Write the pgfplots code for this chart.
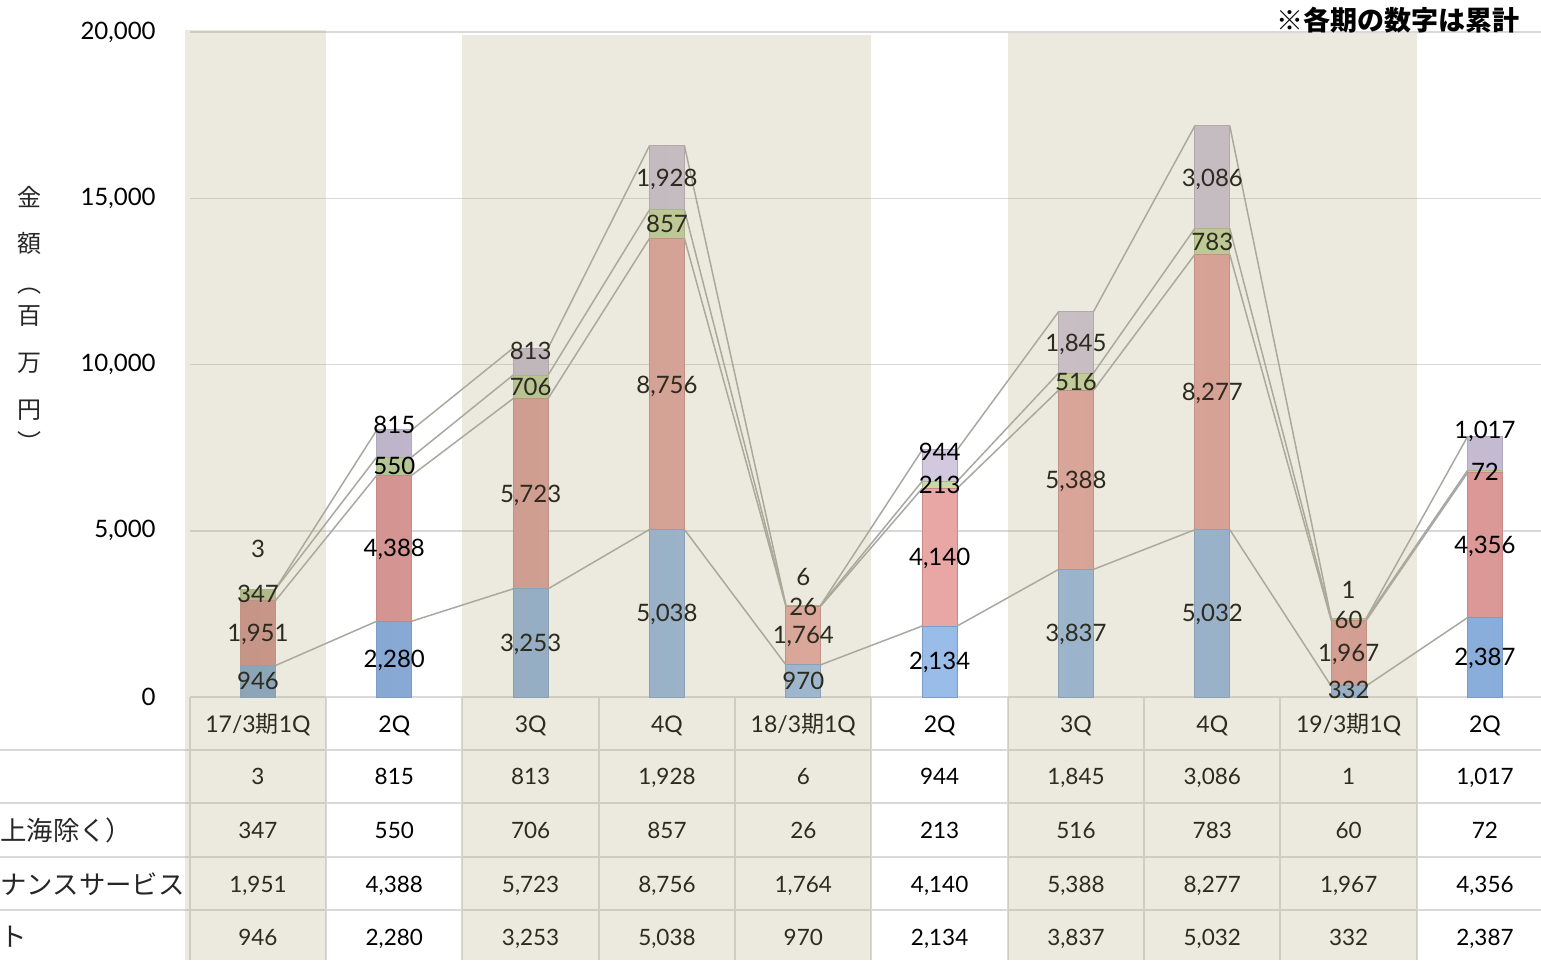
\documentclass[border=0pt]{standalone}
\usepackage{fontspec}
\setmainfont{Lato}
\newfontfamily\cjk{Noto Sans CJK JP}
\usepackage{pgfplots}
\usepackage{pgfplotstable}
\pgfplotsset{compat=1.18}
\definecolor{cblue}{HTML}{92B8E8}
\definecolor{cred}{HTML}{E8A19F}
\definecolor{cgreen}{HTML}{C6D89F}
\definecolor{cpurple}{HTML}{D0C6DE}
\definecolor{overlayc}{RGB}{180,172,128}
\definecolor{gridc}{HTML}{D9D9D9}
\definecolor{linec}{RGB}{168,168,162}

\pgfplotstableread{
x blue red green purple yb yr yg yp
0 946 1951 347 3 481 1925 3098 4451
1 2280 4388 550 815 1143 4481 6947 8180
2 3253 5723 706 813 1624 6105 9323 10406
3 5038 8756 857 1928 2526 9383 14226 15609
4 970 1764 26 6 481 1865 2707 3609
5 2134 4140 213 944 1083 4211 6376 7368
6 3837 5388 516 1845 1925 6526 9474 10647
7 5032 8277 783 3086 2526 9173 13684 15609
8 332 1967 60 1 211 1323 2316 3218
9 2387 4356 72 1017 1203 4571 6767 8030
}\data

\pgfplotsset{
  base/.style={
    scale only axis, width=681.67pt, height=332.5pt,
    xmin=-0.5, xmax=9.5, ymin=0, ymax=20000,
    /pgf/number format/1000 sep={,},
    /pgf/number format/assume math mode=true,
  },
  barseg/.style={fill=#1, draw=#1!85!black, line width=0.5pt,
    left color=#1!88!black, right color=#1!94!black, middle color=#1!92!white},
  tabval/.style={draw=none, mark=none, nodes near coords, point meta=explicit,
    every node near coord/.append style={font=\fontsize{11.25}{13}\selectfont}},
  barlab/.style={draw=none, mark=none, nodes near coords, point meta=explicit},
}

\begin{document}
\begin{tikzpicture}
\useasboundingbox (-94.9pt,-131.5pt) rectangle (675.6pt,348.5pt);
\clip (-94.9pt,-131.5pt) rectangle (675.6pt,348.5pt);

% table lines
\foreach \yy in {-26.5,-53,-80,-106.5}
  \draw[gridc, line width=1pt] (-94.9pt,\yy pt) -- (675.6pt,\yy pt);
\foreach \i in {0,...,9}
  \draw[gridc, line width=1pt] ({\i*68.167pt},0pt) -- ({\i*68.167pt},-131.5pt);

\begin{axis}[base,
  ybar stacked, bar width=17.5pt,
  axis line style={draw=none}, tick style={draw=none},
  ytick={0,5000,10000,15000,20000}, scaled y ticks=false,
  ymajorgrids, grid style={gridc, line width=0.75pt},
  yticklabel style={anchor=east, inner sep=0pt, xshift=-16.9pt, font=\fontsize{12}{14}\selectfont},
  xtick={0,...,9},
  xticklabels={17/3{\cjk 期}1Q,2Q,3Q,4Q,18/3{\cjk 期}1Q,2Q,3Q,4Q,19/3{\cjk 期}1Q,2Q},
  xticklabel style={anchor=base, inner sep=0pt, yshift=-17.5pt, font=\fontsize{11.5}{13}\selectfont},
]
\addplot[barseg=cblue] table[x=x,y=blue]{\data};
\addplot[barseg=cred] table[x=x,y=red]{\data};
\addplot[barseg=cgreen] table[x=x,y=green]{\data};
\addplot[barseg=cpurple] table[x=x,y=purple]{\data};
\end{axis}

\begin{axis}[base, hide axis, clip=false,
  every node near coord/.style={anchor=base, yshift=-4.2pt, inner sep=0pt, font=\fontsize{12}{14}\selectfont, text=black},
]
% series lines
\addplot[linec, line width=0.75pt, mark=none, unbounded coords=jump] coordinates {
(0.128,946) (0.872,2280) (1,nan) (1.128,2280) (1.872,3253) (2,nan)
(2.128,3253) (2.872,5038) (3,nan) (3.128,5038) (3.872,970) (4,nan)
(4.128,970) (4.872,2134) (5,nan) (5.128,2134) (5.872,3837) (6,nan)
(6.128,3837) (6.872,5032) (7,nan) (7.128,5032) (7.872,332) (8,nan)
(8.128,332) (8.872,2387)};
\addplot[linec, line width=0.75pt, mark=none, unbounded coords=jump] coordinates {
(0.128,2897) (0.872,6668) (1,nan) (1.128,6668) (1.872,8976) (2,nan)
(2.128,8976) (2.872,13794) (3,nan) (3.128,13794) (3.872,2734) (4,nan)
(4.128,2734) (4.872,6274) (5,nan) (5.128,6274) (5.872,9225) (6,nan)
(6.128,9225) (6.872,13309) (7,nan) (7.128,13309) (7.872,2299) (8,nan)
(8.128,2299) (8.872,6743)};
\addplot[linec, line width=0.75pt, mark=none, unbounded coords=jump] coordinates {
(0.128,3244) (0.872,7218) (1,nan) (1.128,7218) (1.872,9682) (2,nan)
(2.128,9682) (2.872,14651) (3,nan) (3.128,14651) (3.872,2760) (4,nan)
(4.128,2760) (4.872,6487) (5,nan) (5.128,6487) (5.872,9741) (6,nan)
(6.128,9741) (6.872,14092) (7,nan) (7.128,14092) (7.872,2359) (8,nan)
(8.128,2359) (8.872,6815)};
\addplot[linec, line width=0.75pt, mark=none, unbounded coords=jump] coordinates {
(0.128,3247) (0.872,8033) (1,nan) (1.128,8033) (1.872,10495) (2,nan)
(2.128,10495) (2.872,16579) (3,nan) (3.128,16579) (3.872,2766) (4,nan)
(4.128,2766) (4.872,7431) (5,nan) (5.128,7431) (5.872,11586) (6,nan)
(6.128,11586) (6.872,17178) (7,nan) (7.128,17178) (7.872,2360) (8,nan)
(8.128,2360) (8.872,7832)};
% bar labels
\addplot[barlab] table[x=x,y=yb,meta=blue]{\data};
\addplot[barlab] table[x=x,y=yr,meta=red]{\data};
\addplot[barlab] table[x=x,y=yg,meta=green]{\data};
\addplot[barlab] table[x=x,y=yp,meta=purple]{\data};
% table values
\addplot[tabval] table[x=x,y expr=-2376,meta=purple]{\data};
\addplot[tabval] table[x=x,y expr=-4000,meta=green]{\data};
\addplot[tabval] table[x=x,y expr=-5624,meta=red]{\data};
\addplot[tabval] table[x=x,y expr=-7218,meta=blue]{\data};
\end{axis}

% row labels (only the visible parts)
\begin{scope}[every node/.style={anchor=west, inner sep=0pt, font=\cjk\fontsize{13.2}{15}\selectfont, text=black!85}]
\node at (-94.9pt,-66.5pt) {上海除く）};
\node at (-94.9pt,-93.5pt) {ナンスサービス};
\node at (-94.9pt,-120pt) {ト};
\end{scope}

% y axis title (vertical)
\begin{scope}[every node/.style={anchor=center, inner sep=0pt, font=\cjk\fontsize{12}{14}\selectfont, text=black!85}]
\node at (-79.9pt,250pt) {金};
\node at (-79.9pt,227pt) {額};
\node at (-79.9pt,203pt) {︵};
\node at (-79.9pt,190.5pt) {百};
\node at (-79.9pt,167pt) {万};
\node at (-79.9pt,143.5pt) {円};
\node at (-79.9pt,128pt) {︶};
\end{scope}

% note
\node[anchor=east, inner sep=0pt, font=\cjk\bfseries\fontsize{13.5}{15}\selectfont] at (665.1pt,338.5pt) {※各期の数字は累計};

% beige overlays
\fill[overlayc, fill opacity=0.25] (-2.4pt,-131.5pt) rectangle (68.167pt,333.5pt);
\fill[overlayc, fill opacity=0.25] (136.33pt,-131.5pt) rectangle (340.83pt,331pt);
\fill[overlayc, fill opacity=0.25] (409pt,-131.5pt) rectangle (613.5pt,332pt);
\end{tikzpicture}
\end{document}
